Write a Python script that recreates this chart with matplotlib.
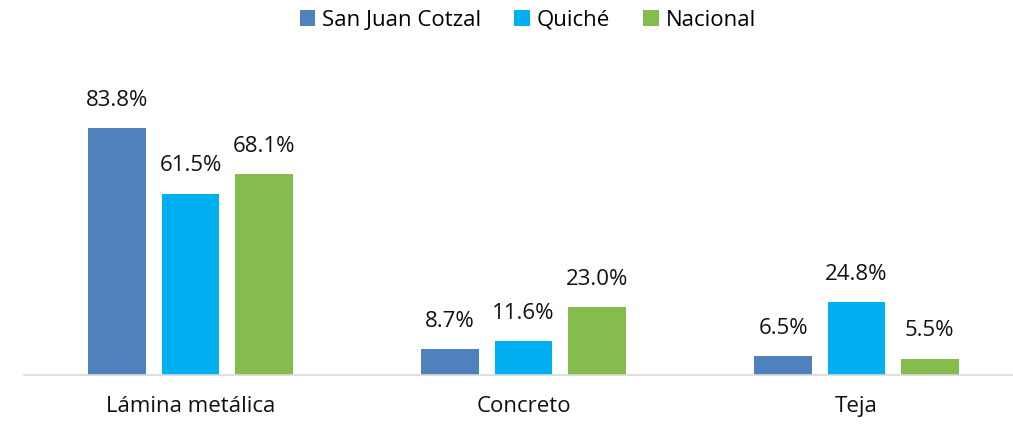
import numpy as np
from matplotlib import pyplot as plt

categories = ['Lámina metálica', 'Concreto', 'Teja']
series = ['San Juan Cotzal', 'Quiché', 'Nacional']
cotzal = [83.8, 8.7, 6.5]
quiche = [61.5, 11.6, 24.8]
nacional = [68.1, 23.0, 5.5]
colors = ['#4F81BD', '#00B0F0', '#84BC4E']

plt.rcParams['font.family'] = ['Open Sans', 'DejaVu Sans']

fig = plt.figure(figsize=(10.13, 4.25), dpi=100)
ax = fig.add_axes([24 / 1013, 1 - 375 / 425, 989 / 1013, 295 / 425])

x = np.arange(len(categories))
w = 0.174
step = 0.22
for i, (vals, name) in enumerate(zip([cotzal, quiche, nacional], series)):
    bars = ax.bar(x + (i - 1) * step, vals, w, color=colors[i], label=name)
    for b, v in zip(bars, vals):
        ax.annotate(f'{v:.1f}%', (b.get_x() + b.get_width() / 2, v),
                    xytext=(0, 20), textcoords='offset points',
                    ha='center', va='center', fontsize=16, color='#111111')

ax.set_xlim(-0.5, -0.5 + 989 / 333)
ax.set_ylim(0, 100)
ax.set_xticks(x)
ax.set_xticklabels(categories, fontsize=16, color='#111111')
ax.tick_params(axis='x', length=0, pad=15)
ax.set_yticks([])
for s in ['top', 'right', 'left']:
    ax.spines[s].set_visible(False)
ax.spines['bottom'].set_color('#D9D9D9')
ax.spines['bottom'].set_linewidth(1.2)

fig.legend(loc='center', bbox_to_anchor=(0.521, 0.952), ncol=3, frameon=False,
           fontsize=16, handlelength=0.7, handleheight=0.7, handletextpad=0.3,
           columnspacing=1.5)

plt.savefig('out.png', dpi=100)
